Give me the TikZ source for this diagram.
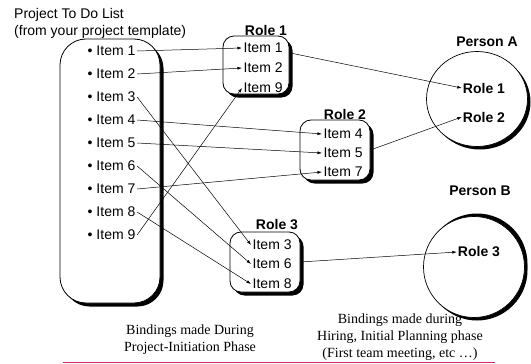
\documentclass[tikz,border=0pt]{standalone}
\usepackage{fontspec}
\setmainfont{Liberation Serif}
\setsansfont{Liberation Sans}
\usetikzlibrary{arrows.meta,shadows,shapes.geometric}
\definecolor{rule}{RGB}{214,40,110}
\tikzset{
	box/.style={draw,fill=white,line width=0.8pt,rounded corners=11pt,
		drop shadow={shadow xshift=3.5pt,shadow yshift=-3.5pt,fill=black,opacity=1}},
	person/.style={draw,fill=white,ellipse,line width=0.7pt,inner sep=0pt,
		drop shadow={shadow xshift=3pt,shadow yshift=-3pt,fill=black,opacity=1}},
	item/.style={anchor=west,inner sep=1.5pt},
	role/.style={font=\sffamily\bfseries\fontsize{14}{17}\selectfont,inner sep=1pt},
	note/.style={font=\rmfamily\fontsize{14}{17}\selectfont,align=center},
	bind/.style={->,line width=0.5pt}
}
\begin{document}
\begin{tikzpicture}[x=1pt,y=-1pt,>={Latex[length=4.5pt,width=3pt]},line join=round,
	font=\sffamily\fontsize{14}{17}\selectfont]
	\useasboundingbox (0,0) rectangle (531,364);
	% the to do list
	\node[anchor=west,align=left,inner sep=0pt] (title) at (14,23)
		{Project To Do List\\(from your project template)};
	\node[box,rounded corners=26pt,minimum width=100,minimum height=264] (list) at (110,171) {};
	\foreach \i/\y in {1/51,2/74,3/97,4/120,5/143,6/166,7/189,8/212,9/235}
		\node[item] (l\i) at (86,\y) {\textbullet\ Item \i};
	% roles
	\node[box,minimum width=66,minimum height=58] (rb1) at (256,65) {};
	\node[box,minimum width=70,minimum height=60] (rb2) at (335,150) {};
	\node[box,minimum width=70,minimum height=60] (rb3) at (265,262) {};
	\node[role] (t1) at (266,30) {Role 1};
	\node[role] (t2) at (345,114) {Role 2};
	\node[role] (t3) at (277,225) {Role 3};
	\foreach \n/\i/\x/\y in {a/1/242/48,b/2/242/68,c/9/242/88,
		d/4/322/134,e/5/322/153,f/7/322/172,
		g/3/251/245,h/6/251/264,k/8/251/284}
		\node[item] (r\n) at (\x,\y) {Item \i};
	% persons
	\node[person,minimum width=101,minimum height=95] (pa) at (477,99) {};
	\node[person,minimum size=101,drop shadow={shadow xshift=3pt,shadow yshift=3pt,fill=black,opacity=1}]
		(pb) at (474,267) {};
	\node[role] (pat) at (487,42) {Person A};
	\node[role] (pbt) at (480,191) {Person B};
	\node[role] (p1) at (484,88) {Role 1};
	\node[role] (p2) at (484,117) {Role 2};
	\node[role] (p3) at (479,252) {Role 3};
	% bindings
	\foreach \a/\b in {1/a,2/b,9/c,4/d,5/e,7/f,3/g,6/h,8/k}
		\draw[bind] (l\a.east) -- (r\b.west);
	\draw[bind] (rb1.20) -- (p1.west);
	\draw[bind] (rb2.east) -- (p2.west);
	\draw[bind] (rb3.east) -- (p3.west);
	% captions
	\node[note] (n1) at (190,340) {Bindings made During\\Project-Initiation Phase};
	\node[note] (n2) at (400,337) {Bindings made during\\Hiring, Initial Planning phase\\(First team meeting, etc \ldots)};
	\draw[rule,line width=1.2pt] (63,362.5) -- (495,362.5);
\end{tikzpicture}
\end{document}
